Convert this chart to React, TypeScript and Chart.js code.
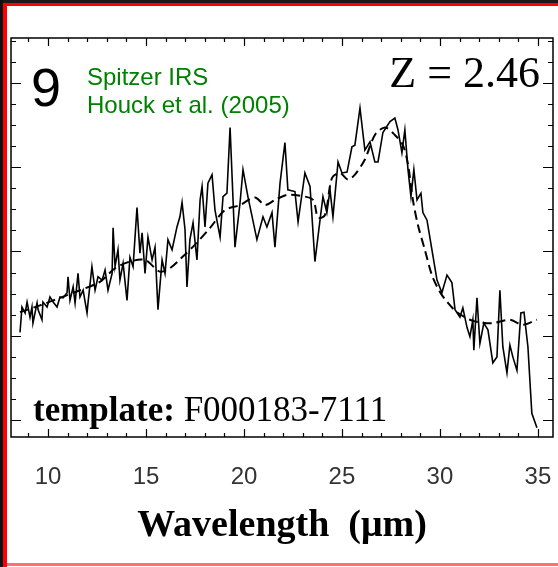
import React, { useEffect, useRef } from 'react';
import { Chart, registerables } from 'chart.js';

Chart.register(...registerables);

// Observed spectrum (solid line)
const wavelength = [
  8.57, 8.67, 8.83, 8.93, 9.08, 9.18, 9.23, 9.44, 9.49, 9.69, 9.74, 9.95, 10.10, 10.26, 10.46, 10.61, 10.77, 10.97, 11.02, 11.12,
  11.28, 11.38, 11.53, 11.63, 11.79, 11.99, 12.04, 12.24, 12.40, 12.55, 12.76, 12.91, 13.06, 13.27, 13.32, 13.42, 13.57, 13.67, 13.83, 14.03,
  14.18, 14.34, 14.54, 14.69, 14.80, 14.95, 15.10, 15.31, 15.46, 15.61, 15.82, 15.97, 16.12, 16.33, 16.58, 16.73, 16.84, 16.99, 17.09, 17.24,
  17.40, 17.60, 17.76, 17.86, 18.01, 18.16, 18.37, 18.52, 18.78, 18.93, 19.13, 19.29, 19.54, 19.80, 19.95, 20.20, 20.66, 20.97, 21.17, 21.43,
  21.58, 21.84, 22.09, 22.24, 22.60, 22.76, 23.11, 23.37, 23.62, 23.88, 24.03, 24.23, 24.39, 24.54, 24.80, 25.00, 25.26, 25.51, 25.66, 25.92,
  26.17, 26.43, 26.68, 26.84, 27.09, 27.45, 27.70, 27.86, 28.06, 28.21, 28.37, 28.52, 28.67, 28.83, 29.03, 29.13, 29.34, 29.59, 29.85, 30.10,
  30.36, 30.61, 30.77, 31.02, 31.17, 31.38, 31.53, 31.68, 31.73, 31.89, 32.04, 32.24, 32.45, 32.70, 32.91, 33.06, 33.21, 33.42, 33.57, 33.72,
  33.93, 34.13, 34.29, 34.49, 34.69, 34.95,
];
const flux = [
  1.04, 1.34, 1.27, 1.40, 1.22, 1.34, 1.15, 1.39, 1.31, 1.19, 1.40, 1.34, 1.46, 1.40, 1.34, 1.46, 1.45, 1.51, 1.70, 1.42,
  1.58, 1.39, 1.74, 1.46, 1.54, 1.27, 1.39, 1.82, 1.54, 1.70, 1.66, 1.78, 1.54, 1.74, 2.28, 1.82, 2.02, 1.66, 1.86, 1.42,
  1.93, 1.82, 2.52, 1.98, 2.22, 1.74, 2.17, 1.90, 2.05, 1.31, 1.90, 1.74, 2.14, 2.02, 2.29, 2.41, 2.58, 2.26, 1.58, 2.14,
  2.34, 1.90, 2.61, 2.77, 2.29, 2.81, 2.91, 2.49, 2.17, 2.65, 2.69, 3.47, 2.05, 2.58, 2.97, 2.65, 2.14, 2.41, 2.29, 2.46,
  2.05, 2.81, 3.29, 2.73, 2.71, 2.35, 2.93, 2.77, 1.88, 2.37, 2.65, 2.46, 2.73, 2.41, 3.06, 2.93, 2.94, 3.24, 3.26, 3.70,
  3.20, 3.30, 3.06, 3.06, 3.41, 3.54, 3.58, 3.44, 3.17, 3.44, 2.97, 2.65, 2.97, 2.61, 2.69, 2.46, 2.37, 2.02, 1.66, 1.51,
  1.72, 1.63, 1.31, 1.22, 1.33, 1.10, 0.99, 1.19, 0.83, 1.45, 0.91, 1.15, 1.07, 0.68, 0.75, 1.54, 0.87, 0.56, 0.89, 0.75,
  0.59, 1.27, 1.28, 0.87, 0.08, -0.09,
];

// Template fit (dashed line)
const templateWavelength = [
  8.57, 9.59, 10.61, 11.63, 12.65, 13.42, 14.18, 14.95, 15.71, 16.22, 16.84, 17.50, 18.27, 19.03, 19.80, 20.56, 21.07, 21.58, 22.19, 22.86,
  23.52, 23.78, 24.13, 24.49, 24.90, 25.31, 25.66, 26.17, 26.68, 27.19, 27.70, 28.11, 28.37, 28.62, 28.88, 29.23, 29.59, 30.00, 30.41, 30.87,
  31.53, 32.04, 32.70, 33.57, 34.23, 34.95,
];
const templateFlux = [
  1.28, 1.36, 1.45, 1.54, 1.64, 1.80, 1.88, 1.90, 1.76, 1.80, 1.93, 2.08, 2.28, 2.49, 2.55, 2.64, 2.55, 2.61, 2.67, 2.66,
  2.61, 2.40, 2.43, 2.87, 2.93, 2.85, 2.91, 3.09, 3.38, 3.47, 3.38, 3.26, 3.03, 2.61, 2.31, 2.02, 1.72, 1.52, 1.39, 1.28,
  1.19, 1.16, 1.15, 1.19, 1.13, 1.19,
];

const xTickValues = [10, 15, 20, 25, 30, 35];
const X_MIN = 8.11;
const X_MAX = 35.77;
const Y_MIN = -0.2;
const Y_MAX = 4.53;

const panelNumber = '9';
const instrumentText = 'Spitzer IRS';
const referenceText = 'Houck et al. (2005)';
const redshiftText = 'Z = 2.46';
const templateLabel = 'template:';
const templateName = 'F000183-7111';
const xTitle = 'Wavelength  (\u03bcm)';

const framePlugin = {
  id: 'frameTicks',
  afterDatasetsDraw(chart: any) {
    const { ctx, chartArea: a, scales } = chart;
    const xs = scales.x;
    const ys = scales.y;
    ctx.save();
    ctx.strokeStyle = '#000';
    ctx.lineWidth = 1.5;
    ctx.strokeRect(a.left, a.top, a.right - a.left, a.bottom - a.top);
    ctx.lineWidth = 1.2;
    ctx.beginPath();
    for (let v = Math.ceil(X_MIN); v <= X_MAX; v += 1) {
      const px = Math.round(xs.getPixelForValue(v)) + 0.5;
      const len = v % 5 === 0 ? 8 : 4;
      ctx.moveTo(px, a.bottom);
      ctx.lineTo(px, a.bottom - len);
      ctx.moveTo(px, a.top);
      ctx.lineTo(px, a.top + len);
    }
    for (let i = Math.ceil(Y_MIN / 0.25); i * 0.25 <= Y_MAX; i++) {
      const v = i * 0.25;
      const py = Math.round(ys.getPixelForValue(v)) + 0.5;
      const len = i % 4 === 0 ? 10 : 5;
      ctx.moveTo(a.left, py);
      ctx.lineTo(a.left + len, py);
      ctx.moveTo(a.right, py);
      ctx.lineTo(a.right - len, py);
    }
    ctx.stroke();

    // annotations
    ctx.textBaseline = 'alphabetic';
    ctx.fillStyle = '#000';
    ctx.textAlign = 'left';
    ctx.font = '54px "Liberation Sans", Arial, sans-serif';
    ctx.fillText(panelNumber, 31, 106);

    ctx.fillStyle = '#008000';
    ctx.font = '24px "Liberation Sans", Arial, sans-serif';
    ctx.fillText(instrumentText, 87, 85);
    ctx.fillText(referenceText, 87, 113);

    ctx.fillStyle = '#000';
    ctx.textAlign = 'right';
    ctx.font = '44px "Liberation Serif", "Times New Roman", serif';
    ctx.fillText(redshiftText, 540, 87);

    ctx.textAlign = 'left';
    ctx.font = 'bold 35px "Liberation Serif", "Times New Roman", serif';
    ctx.fillText(templateLabel, 33, 421);
    const w = ctx.measureText(templateLabel + ' ').width;
    ctx.font = '35px "Liberation Serif", "Times New Roman", serif';
    ctx.fillText(templateName, 33 + w, 421);
    ctx.restore();
  },
};

export default function App() {
  const canvasRef = useRef<HTMLCanvasElement | null>(null);

  useEffect(() => {
    document.body.style.margin = '0';
    const canvas = canvasRef.current;
    if (!canvas) return;
    const chart = new Chart(canvas, {
      type: 'line',
      data: {
        datasets: [
          {
            label: 'Spitzer IRS',
            data: wavelength.map((x, i) => ({ x, y: flux[i] })),
            borderColor: '#000',
            borderWidth: 1.6,
            pointRadius: 0,
            tension: 0,
            fill: false,
          },
          {
            label: 'template',
            data: templateWavelength.map((x, i) => ({ x, y: templateFlux[i] })),
            borderColor: '#000',
            borderWidth: 2,
            borderDash: [9, 5],
            pointRadius: 0,
            tension: 0.3,
            fill: false,
          },
        ],
      },
      options: {
        animation: false,
        responsive: false,
        maintainAspectRatio: false,
        devicePixelRatio: 1,
        layout: { padding: { left: 11, right: 5, top: 38, bottom: 0 } },
        plugins: { legend: { display: false }, tooltip: { enabled: false }, title: { display: false } },
        scales: {
          x: {
            type: 'linear',
            min: X_MIN,
            max: X_MAX,
            grid: { display: false, drawTicks: false },
            border: { display: false },
            afterBuildTicks: (scale: any) => {
              scale.ticks = xTickValues.map((v) => ({ value: v }));
            },
            afterFit: (scale: any) => {
              scale.height = 130;
              scale.paddingLeft = 0;
              scale.paddingRight = 0;
            },
            ticks: {
              autoSkip: false,
              maxRotation: 0,
              padding: 26,
              color: '#333',
              font: { family: '"Liberation Sans", Arial, sans-serif', size: 24, lineHeight: 1.2 },
              callback: (v: any) => String(v),
            },
            title: {
              display: true,
              text: xTitle,
              color: '#000',
              font: { family: '"Liberation Serif", "Times New Roman", serif', size: 38, weight: 'bold', lineHeight: 1 },
              padding: { top: 0, bottom: 22 },
            },
          },
          y: {
            type: 'linear',
            display: false,
            min: Y_MIN,
            max: Y_MAX,
          },
        },
      },
      plugins: [framePlugin],
    } as any);
    return () => chart.destroy();
  }, []);

  return (
    <div style={{ position: 'relative', width: 558, height: 567, background: '#fff', overflow: 'hidden' }}>
      <canvas ref={canvasRef} width={558} height={567} style={{ position: 'absolute', left: 0, top: 0, width: 558, height: 567 }} />
      <div style={{ position: 'absolute', left: 0, top: 0, width: 558, height: 3, background: '#1a1a1a' }} />
      <div style={{ position: 'absolute', left: 0, top: 3, width: 558, height: 3, background: '#ff0000' }} />
      <div style={{ position: 'absolute', left: 0, top: 0, width: 3, height: 567, background: '#111' }} />
      <div style={{ position: 'absolute', left: 3, top: 3, width: 4, height: 564, background: '#ff0000' }} />
      <div style={{ position: 'absolute', left: 7, top: 563, width: 551, height: 3, background: '#ff7070' }} />
    </div>
  );
}
